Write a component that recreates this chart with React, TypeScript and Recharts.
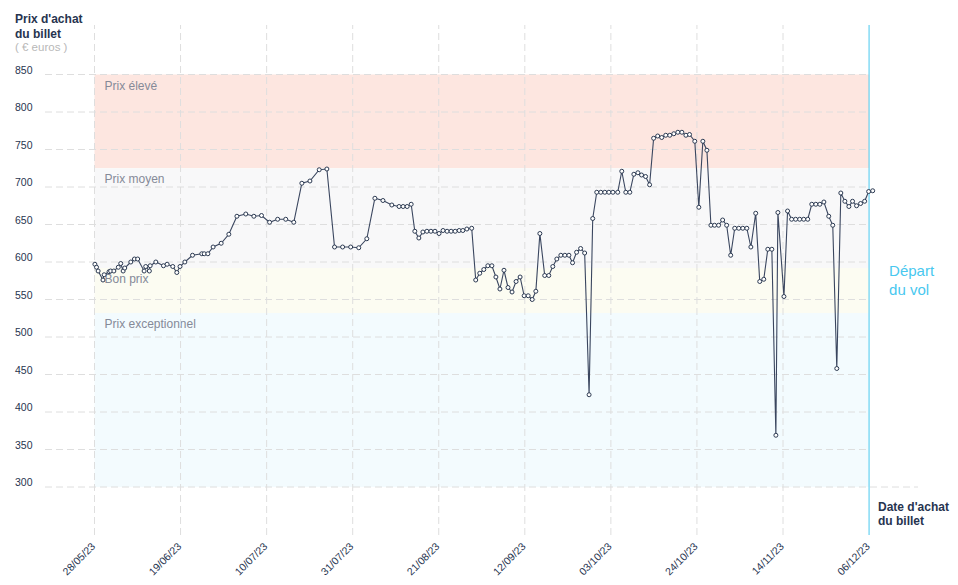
import React from "react";
import { LineChart, Line, XAxis, YAxis, ReferenceArea, ReferenceLine } from "recharts";

// Days since 28/05/23 (purchase date) and ticket price in euros
const purchaseDays = [
  0.1, 0.5, 0.9, 2.1, 2.4, 3.6, 4.0, 4.8, 5.9, 6.5,
  7.1, 7.5, 9.0, 9.9, 10.7, 12.3, 12.7, 13.6, 13.8, 15.2,
  17.1, 18.0, 19.4, 20.4, 21.2, 22.4, 24.3, 26.6, 27.2, 28.1,
  29.4, 31.4, 33.3, 35.3, 37.5, 39.5, 41.4, 43.4, 45.4, 47.4,
  49.4, 51.4, 53.4, 55.7, 57.6, 59.5, 61.5, 63.5, 65.5, 67.5,
  69.5, 71.5, 73.7, 75.5, 76.5, 77.5, 78.5, 79.4, 80.4, 81.4,
  82.4, 83.4, 84.4, 85.4, 86.4, 87.4, 88.4, 89.4, 90.4, 91.3,
  92.3, 93.5, 94.5, 95.5, 96.5, 97.5, 98.5, 99.5, 100.5, 101.5,
  102.5, 103.5, 104.5, 105.5, 106.5, 107.5, 108.5, 109.4, 110.4, 111.6,
  112.6, 113.6, 114.6, 115.6, 116.6, 117.6, 118.5, 119.5, 120.5, 121.5,
  122.6, 123.5, 124.5, 125.5, 126.5, 127.5, 128.5, 129.7, 130.7, 131.7,
  132.7, 133.7, 134.7, 135.6, 136.6, 137.6, 138.6, 139.6, 140.6, 141.6,
  142.6, 143.6, 144.6, 145.6, 146.6, 147.5, 148.8, 149.8, 150.8, 151.8,
  152.8, 153.7, 154.7, 155.7, 156.7, 157.7, 158.7, 159.7, 160.7, 161.7,
  162.7, 163.9, 164.9, 165.9, 166.9, 167.9, 168.9, 169.4, 170.9, 171.8,
  172.8, 173.8, 174.8, 175.8, 176.8, 177.8, 178.8, 179.8, 180.8, 182.0,
  183.0, 184.0, 185.0, 186.0, 187.0, 187.9, 188.9, 189.9, 190.9, 191.9,
  192.9,
];

const prices = [
  597, 593, 588, 576, 583, 587, 588, 588, 593, 598,
  588, 592, 600, 604, 604, 588, 594, 588, 595, 600,
  595, 597, 594, 586, 594, 600, 609, 611, 611, 611,
  620, 625, 637, 661, 664, 661, 662, 653, 657, 657,
  653, 705, 708, 723, 724, 620, 620, 620, 619, 631,
  685, 682, 676, 674, 674, 674, 677, 641, 632, 640,
  641, 641, 641, 638, 642, 641, 641, 641, 642, 642,
  644, 645, 576, 585, 590, 595, 595, 580, 564, 589,
  566, 560, 574, 580, 555, 555, 550, 561, 638, 582,
  582, 594, 604, 609, 609, 609, 599, 613, 618, 612,
  423, 658, 693, 693, 693, 693, 693, 693, 721, 693,
  693, 717, 719, 716, 714, 703, 765, 768, 766, 769,
  769, 771, 773, 773, 769, 770, 761, 673, 761, 749,
  649, 649, 649, 656, 649, 609, 645, 645, 645, 645,
  620, 665, 574, 577, 617, 617, 369, 666, 554, 668,
  657, 657, 657, 657, 657, 677, 677, 677, 680, 661,
  649, 458, 692, 681, 674, 681, 675, 678, 681, 694,
  695,
];

const tickDays = [0, 21.33, 42.67, 64, 85.33, 106.67, 128, 149.33, 170.67, 192];
const tickLabels = [
  "28/05/23", "19/06/23", "10/07/23", "31/07/23", "21/08/23",
  "12/09/23", "03/10/23", "24/10/23", "14/11/23", "06/12/23",
];
const priceTicks = [300, 350, 400, 450, 500, 550, 600, 650, 700, 750, 800, 850];

const bandNames = ["Prix élevé", "Prix moyen", "Bon prix", "Prix exceptionnel"];
const bandHigh = [850, 725, 592, 532];
const bandLow = [725, 592, 532, 300];

const departureDay = 192;

const bandColors = ["#fde6e0", "#f8f8f9", "#fcfcf2", "#f3fbfe"];
const FONT = "'Liberation Sans', Arial, Helvetica, sans-serif";
const NAVY = "#27344f";
const CYAN = "#48c8ef";
const GRID = "#dedede";

const data = purchaseDays.map((d, i) => ({ day: d, price: prices[i] }));

const X_MIN = -12.27;
const X_MAX = 204.13;

const YTick = (props: any) => {
  const { x, y, payload } = props;
  return (
    <text x={x - 30} y={y - 1} textAnchor="start" fontSize={10.5} fontFamily={FONT} fill={NAVY}>
      {payload.value}
    </text>
  );
};

const XTick = (props: any) => {
  const { x, y, index } = props;
  const ax = x + 1.5;
  const ay = y + 12;
  return (
    <text
      x={ax}
      y={ay}
      textAnchor="end"
      fontSize={10.5}
      fontFamily={FONT}
      fill={NAVY}
      transform={`rotate(-45, ${ax}, ${ay})`}
    >
      {tickLabels[index]}
    </text>
  );
};

const bandLabel = (name: string) => (p: any) => {
  const vb = p.viewBox || {};
  return (
    <text x={vb.x + 10} y={vb.y + 15} fontSize={12} fontFamily={FONT} fill="#858a98">
      {name}
    </text>
  );
};

const departLabel = (p: any) => {
  const vb = p.viewBox || {};
  const mid = vb.y + vb.height / 2;
  return (
    <g>
      <text x={vb.x + 20} y={mid - 4.5} fontSize={15} fontFamily={FONT} fill={CYAN}>
        Départ
      </text>
      <text x={vb.x + 20} y={mid + 15} fontSize={15} fontFamily={FONT} fill={CYAN}>
        du vol
      </text>
    </g>
  );
};

export default function App() {
  return (
    <div style={{ position: "relative", width: 950, height: 569 }}>
      <LineChart
        width={950}
        height={569}
        data={data}
        margin={{ top: 17, right: 40, bottom: 0, left: 0 }}
      >
        <XAxis
          dataKey="day"
          type="number"
          domain={[X_MIN, X_MAX]}
          ticks={tickDays}
          interval={0}
          height={42}
          axisLine={false}
          tickLine={false}
          tickSize={0}
          tickMargin={0}
          tick={<XTick />}
          allowDataOverflow
        />
        <YAxis
          type="number"
          domain={[236, 916]}
          ticks={priceTicks}
          interval={0}
          width={37}
          axisLine={false}
          tickLine={false}
          tickSize={0}
          tickMargin={0}
          tick={<YTick />}
          allowDataOverflow
        />
        {bandNames.map((name, i) => (
          <ReferenceArea
            key={name}
            x1={0}
            x2={departureDay}
            y1={bandLow[i]}
            y2={bandHigh[i]}
            fill={bandColors[i]}
            fillOpacity={1}
            stroke="none"
            label={bandLabel(name)}
          />
        ))}
        {priceTicks.map((v) => (
          <ReferenceLine
            key={"h" + v}
            segment={[
              { x: X_MIN, y: v },
              { x: v === priceTicks[0] ? X_MAX : departureDay, y: v },
            ]}
            stroke={GRID}
            strokeDasharray="7 4"
            strokeWidth={1}
          />
        ))}
        {tickDays.slice(0, -1).map((d) => (
          <ReferenceLine key={"v" + d} x={d} stroke={GRID} strokeDasharray="7 4" strokeWidth={1} />
        ))}
        <Line
          type="linear"
          dataKey="price"
          stroke="#3a465f"
          strokeWidth={1.1}
          dot={{ r: 2, fill: "#ffffff", stroke: "#2c3a52", strokeWidth: 1 }}
          activeDot={false}
          isAnimationActive={false}
        />
        <ReferenceLine x={departureDay} stroke={CYAN} strokeWidth={1} label={departLabel} />
      </LineChart>
      <svg
        width={950}
        height={569}
        style={{ position: "absolute", left: 0, top: 0, pointerEvents: "none" }}
      >
        <text x={7} y={15} fontSize={12} fontWeight="bold" fontFamily={FONT} fill={NAVY}>
          Prix d'achat
        </text>
        <text x={7} y={30} fontSize={12} fontWeight="bold" fontFamily={FONT} fill={NAVY}>
          du billet
        </text>
        <text x={7} y={42.5} fontSize={11.5} fontFamily={FONT} fill="#b8b8b8">
          ( € euros )
        </text>
        <text x={870} y={502.5} fontSize={12} fontWeight="bold" fontFamily={FONT} fill={NAVY}>
          Date d'achat
        </text>
        <text x={870} y={517} fontSize={12} fontWeight="bold" fontFamily={FONT} fill={NAVY}>
          du billet
        </text>
      </svg>
    </div>
  );
}
